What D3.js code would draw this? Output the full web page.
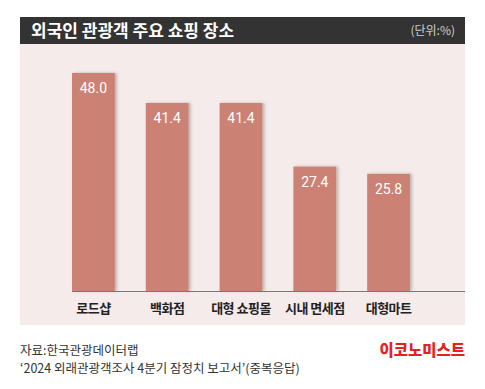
<!DOCTYPE html>
<html>
<head>
<meta charset="utf-8">
<script src="https://cdn.jsdelivr.net/npm/d3@7"></script>
<style>
  body { margin: 0; background: #fff; }
  svg { display: block; font-family: "Noto Sans CJK KR", "Noto Sans", sans-serif; }
</style>
</head>
<body>
<div id="chart"></div>
<script>
// 외국인 관광객 주요 쇼핑 장소 (단위:%)
var categories = ['로드샵', '백화점', '대형 쇼핑몰', '시내 면세점', '대형마트'];
var values = [48.0, 41.4, 41.4, 27.4, 25.8];

var W = 485, H = 389;
var svg = d3.select('#chart').append('svg').attr('width', W).attr('height', H);

var defs = svg.append('defs');
var f = defs.append('filter').attr('id', 'sh').attr('x', '-20%').attr('y', '-10%').attr('width', '150%').attr('height', '120%');
f.append('feDropShadow').attr('dx', 2).attr('dy', 0).attr('stdDeviation', 1.5)
  .attr('flood-color', '#000').attr('flood-opacity', 0.25);

// panel + header
svg.append('rect').attr('x', 20).attr('y', 44).attr('width', 445).attr('height', 281).attr('fill', '#f6ebeb');
svg.append('rect').attr('x', 20).attr('y', 17).attr('width', 445).attr('height', 27).attr('fill', '#333333');

svg.append('text').attr('x', 31).attr('y', 37)
  .attr('fill', '#fff').attr('font-size', 17).attr('font-weight', 700)
  .text('외국인 관광객 주요 쇼핑 장소');
svg.append('text').attr('x', 455).attr('y', 35).attr('text-anchor', 'end')
  .attr('fill', '#cfcfcf').attr('font-size', 12)
  .text('(단위:%)');

var x = d3.scaleBand().domain(categories).range([56.5, 425.5]).paddingInner(0.42).paddingOuter(0.21);
var y = d3.scaleLinear().domain([0, 48]).range([291, 73]);

var chart = svg.append('g');

chart.selectAll('.bar').data(values).enter().append('rect')
  .attr('class', 'bar')
  .attr('x', (d, i) => x(categories[i]))
  .attr('y', d => y(d))
  .attr('width', x.bandwidth())
  .attr('height', d => y(0) - y(d))
  .attr('fill', '#cc8174')
  .attr('filter', 'url(#sh)');

chart.selectAll('.value').data(values).enter().append('text')
  .attr('class', 'value')
  .attr('x', (d, i) => x(categories[i]) + x.bandwidth() / 2)
  .attr('y', d => y(d) + 20)
  .attr('text-anchor', 'middle')
  .attr('fill', '#fff').attr('font-size', 14)
  .attr('font-family', 'Roboto, "Noto Sans", sans-serif')
  .text(d => d.toFixed(1));

// baseline
chart.append('line').attr('x1', x(categories[0])).attr('x2', 465)
  .attr('y1', 291.5).attr('y2', 291.5).attr('stroke', '#777').attr('stroke-width', 1);

var xAxis = chart.append('g').attr('transform', 'translate(0,291)')
  .call(d3.axisBottom(x).tickSize(0).tickPadding(13));
xAxis.select('.domain').remove();
xAxis.selectAll('text')
  .attr('font-size', 13).attr('font-weight', 700).attr('fill', '#222')
  .attr('letter-spacing', -0.5)
  .attr('font-family', '"Noto Sans CJK KR", sans-serif');

// footer
svg.append('text').attr('x', 20).attr('y', 355).attr('font-size', 12.5).attr('fill', '#333')
  .text('자료:한국관광데이터랩');
svg.append('text').attr('x', 20).attr('y', 373).attr('font-size', 12.5).attr('fill', '#333')
  .text('‘2024 외래관광객조사 4분기 잠정치 보고서’(중복응답)');
svg.append('text').attr('x', 465).attr('y', 356).attr('text-anchor', 'end')
  .attr('font-size', 15.5).attr('font-weight', 900).attr('fill', '#e3231f')
  .text('이코노미스트');
</script>
</body>
</html>
